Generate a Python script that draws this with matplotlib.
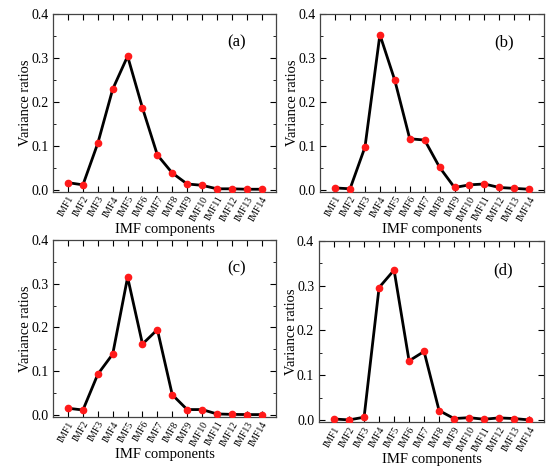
import numpy as np
import matplotlib
matplotlib.use("Agg")
import matplotlib.pyplot as plt
from matplotlib.ticker import MultipleLocator

plt.rcParams['font.family'] = ['Liberation Serif', 'DejaVu Serif']

imf_labels = [f'IMF{i}' for i in range(1, 15)]

var_a = [0.016, 0.011, 0.106, 0.229, 0.304, 0.186, 0.079, 0.038, 0.013, 0.010,
         0.002, 0.002, 0.001, 0.001]
var_b = [0.004, 0.002, 0.097, 0.353, 0.249, 0.116, 0.113, 0.051, 0.005, 0.011,
         0.013, 0.005, 0.003, 0.001]
var_c = [0.015, 0.011, 0.093, 0.139, 0.315, 0.162, 0.195, 0.046, 0.012, 0.012,
         0.002, 0.001, 0.0005, 0.0005]
var_d = [0.002, 0.000, 0.006, 0.296, 0.335, 0.132, 0.153, 0.021, 0.003, 0.005,
         0.0015, 0.0045, 0.003, 0.000]

panels = [('(a)', var_a), ('(b)', var_b), ('(c)', var_c), ('(d)', var_d)]
positions = [
    [0.096, 0.590, 0.403, 0.380],
    [0.578, 0.590, 0.404, 0.380],
    [0.096, 0.109, 0.403, 0.378],
    [0.576, 0.098, 0.406, 0.387],
]

fig = plt.figure(figsize=(5.54, 4.68), dpi=100)
x = np.arange(1, 15)

for (tag, vals), pos in zip(panels, positions):
    ax = fig.add_axes(pos)
    ax.plot(x, vals, color='black', lw=2, zorder=2)
    ax.plot(x, vals, 'o', color='#ff1a1a', ms=4.5, zorder=3)
    ax.set_xlim(0, 15)
    ax.set_ylim(-0.005, 0.4)
    ax.set_xticks(x)
    ax.set_xticklabels(imf_labels, rotation=60, ha='right', rotation_mode='anchor',
                       fontsize=7)
    ax.yaxis.set_minor_locator(MultipleLocator(0.05))
    ax.set_yticks([0.0, 0.1, 0.2, 0.3, 0.4])
    ax.set_yticklabels(['0.0', '0.1', '0.2', '0.3', '0.4'], fontsize=10)
    ax.tick_params(which='both', direction='in', top=True, right=True)
    ax.tick_params(which='major', length=4, width=0.8)
    ax.tick_params(which='minor', length=2, width=0.6)
    ax.tick_params(axis='x', pad=2)
    for s in ax.spines.values():
        s.set_color('#444444')
        s.set_linewidth(0.9)
    ax.set_ylabel('Variance ratios', fontsize=10.5)
    ax.yaxis.set_label_coords(-0.095, 0.5)
    ax.set_xlabel('IMF components', fontsize=10.5, labelpad=0)
    ax.text(0.82, 0.84, tag, transform=ax.transAxes, fontsize=12,
            ha='center', va='center')

fig.savefig('out.png', dpi=100, facecolor='white')
